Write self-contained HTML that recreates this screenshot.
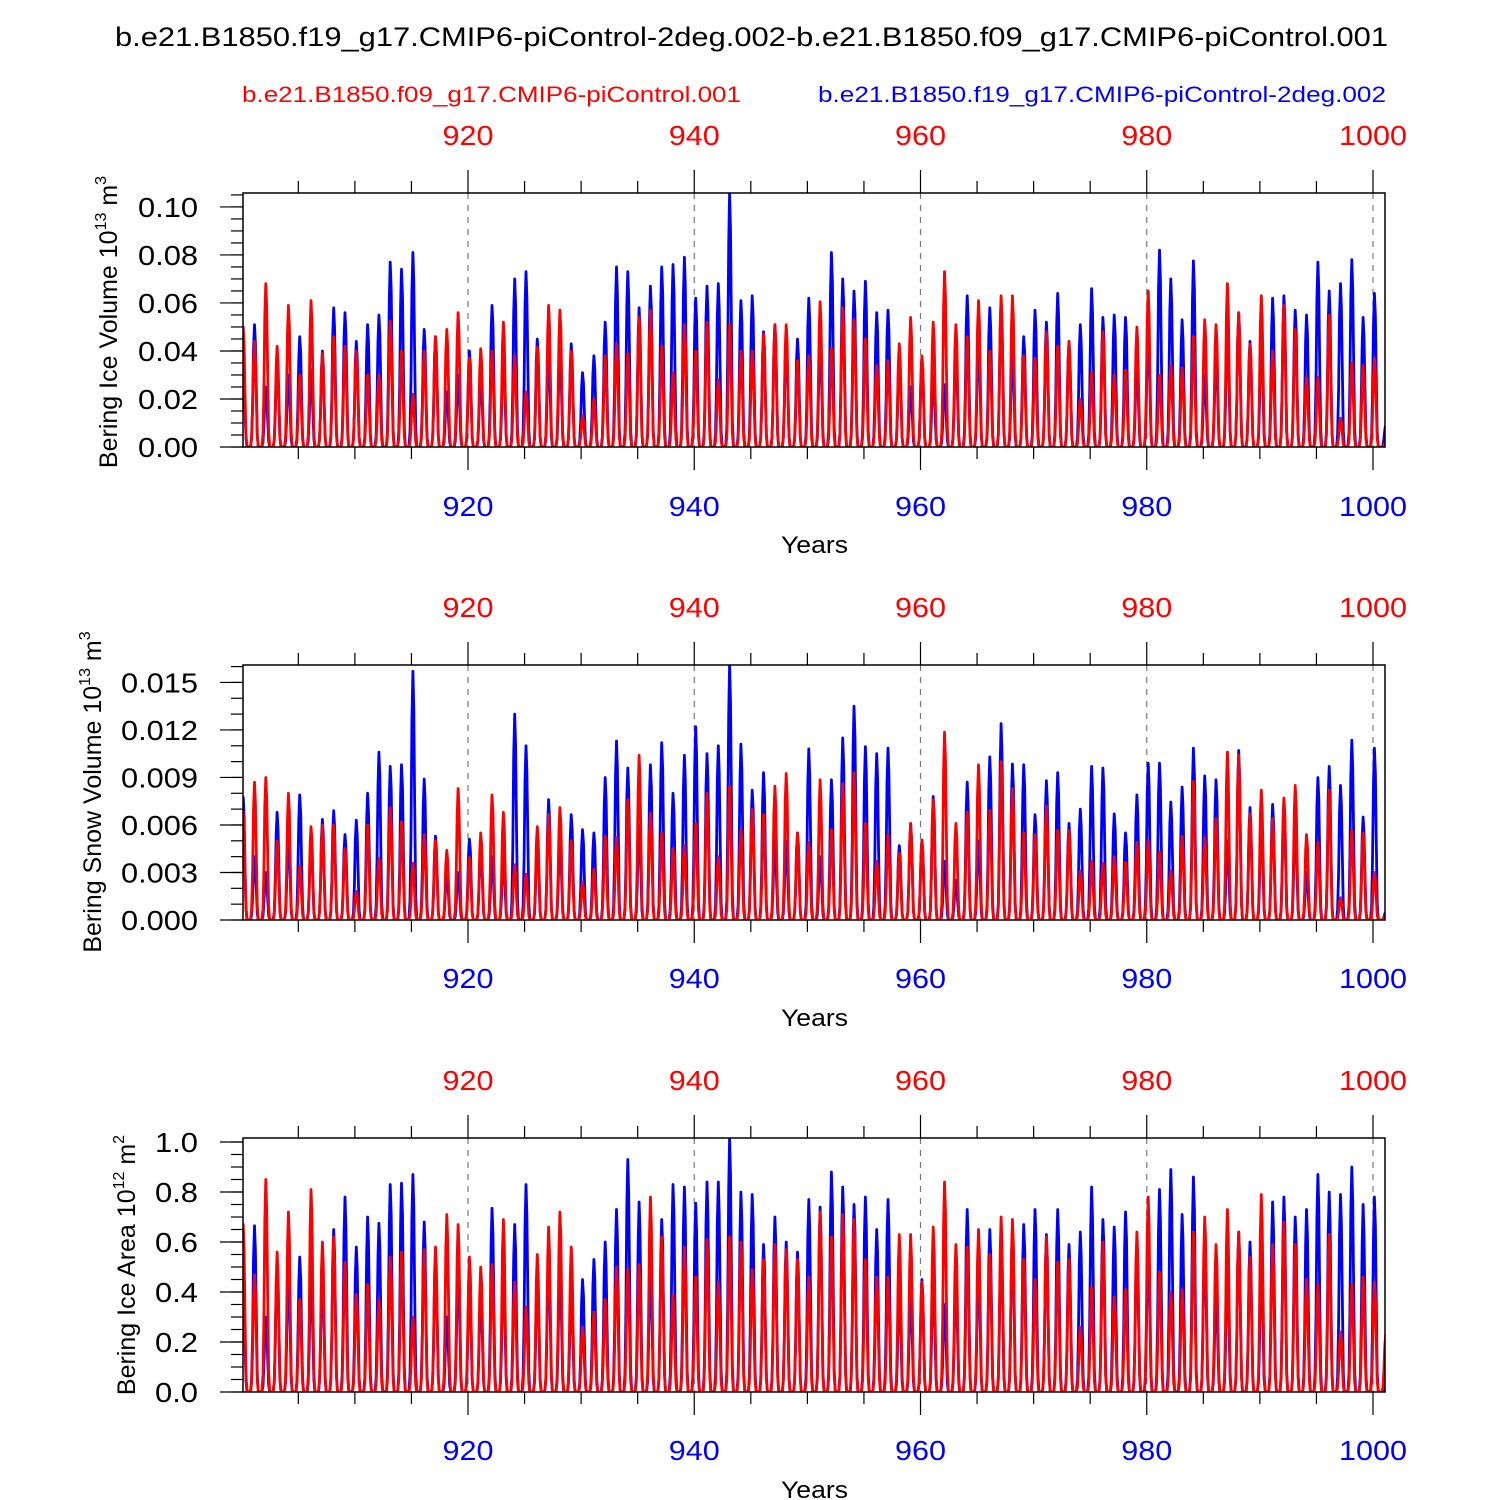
<!DOCTYPE html>
<html>
<head>
<meta charset="utf-8">
<style>
html,body{margin:0;padding:0;background:#fff;}
svg{display:block;font-family:"Liberation Sans",Arial,sans-serif;}
</style>
</head>
<body>
<svg id="chart" width="1500" height="1500" viewBox="0 0 1500 1500" xmlns="http://www.w3.org/2000/svg">
<text x="115" y="46" font-size="27" textLength="1273" lengthAdjust="spacingAndGlyphs" fill="#000">b.e21.B1850.f19_g17.CMIP6-piControl-2deg.002-b.e21.B1850.f09_g17.CMIP6-piControl.001</text>
<text x="242" y="102" font-size="22" textLength="499" lengthAdjust="spacingAndGlyphs" fill="#ff0000">b.e21.B1850.f09_g17.CMIP6-piControl.001</text>
<text x="818" y="102" font-size="22" textLength="568" lengthAdjust="spacingAndGlyphs" fill="#0000ff">b.e21.B1850.f19_g17.CMIP6-piControl-2deg.002</text>
<g id="panels"></g>
</svg>
<script>
// Annual peak values (winter maxima) per year 900..1001
const years = [];
for (let y = 900; y <= 1001; y++) years.push(y);
const xTicks = [920, 940, 960, 980, 1000];

// Panel 1: ice volume (units 0.01 x 10^13 m^3)
const iceVolBlue = [3.5,5.1,2.5,3.6,3.0,4.6,3.2,4.0,5.8,5.6,4.4,5.1,5.5,7.7,7.4,8.1,4.9,4.6,2.3,3.0,4.0,3.0,5.9,4.0,7.0,7.3,4.5,4.0,4.0,4.3,3.1,3.8,5.2,7.5,7.3,5.8,6.7,7.5,7.6,7.9,6.2,6.7,6.8,10.6,6.1,6.3,4.8,5.1,4.5,4.5,6.2,4.5,8.1,7.0,6.5,6.9,5.6,5.7,3.8,2.5,3.7,3.0,2.6,4.0,6.3,4.5,5.8,6.1,4.0,4.6,5.7,5.2,6.4,4.4,5.1,6.6,5.4,5.5,5.4,3.5,5.0,8.2,7.0,5.3,7.75,3.0,4.0,5.0,5.6,4.4,4.5,6.2,6.3,5.7,5.5,7.7,6.5,6.8,7.8,5.4,6.4,0.9];
const iceVolRed = [5.0,4.4,6.8,4.2,5.9,3.0,6.1,3.9,4.6,4.2,4.0,3.0,3.0,5.25,4.0,2.2,4.0,4.6,4.9,5.6,3.7,4.1,4.0,5.2,3.8,2.3,4.15,5.9,5.7,4.0,1.3,2.0,3.8,4.3,3.9,5.4,5.7,4.2,3.1,5.1,4.0,5.2,2.8,5.1,4.0,4.0,4.7,5.1,5.1,3.6,3.8,6.05,4.1,5.8,5.3,4.5,3.4,3.6,4.3,5.4,3.8,5.2,7.3,5.1,4.6,6.1,4.0,6.3,6.3,3.8,3.7,4.8,4.2,4.4,2.0,3.1,4.8,3.0,3.2,5.0,6.5,3.0,3.4,3.3,4.6,5.3,5.1,6.8,5.6,4.3,6.3,4.0,5.9,4.9,2.9,2.9,5.5,1.2,3.5,3.4,3.7,0.2];
// Panel 2: snow volume (units 0.001 x 10^13 m^3)
const snowVolBlue = [7.75,4.0,3.0,6.8,5.4,7.9,5.0,6.35,6.9,5.4,6.3,8.0,10.6,9.7,9.8,15.7,8.9,5.3,3.0,3.0,5.1,4.6,4.0,4.0,13.0,11.0,5.0,7.6,5.0,6.65,5.7,5.5,9.0,11.3,9.6,6.0,9.8,11.2,8.0,10.4,12.2,10.5,11.0,16.2,11.1,8.2,9.3,5.0,5.0,5.5,10.8,4.0,8.85,11.5,13.5,10.95,10.5,10.85,4.7,6.1,5.05,7.8,3.7,2.5,8.7,5.0,10.3,12.4,9.85,9.8,6.65,8.8,9.3,6.1,7.0,9.7,9.6,6.7,5.5,7.9,9.9,9.9,7.45,8.4,10.85,9.1,8.85,5.0,10.7,7.1,6.0,7.3,7.5,6.0,3.0,9.0,9.7,8.5,11.35,6.5,10.85,0.5];
const snowVolRed = [6.8,8.7,9.0,5.0,8.0,3.4,5.9,6.0,6.0,4.5,1.8,6.0,3.9,7.1,6.2,3.6,5.4,5.0,4.4,8.3,3.95,5.5,7.9,6.8,3.5,2.9,5.9,6.65,7.1,5.0,2.4,3.2,5.3,5.2,7.6,10.4,6.75,5.5,4.5,4.7,6.1,8.0,4.0,8.45,5.7,7.0,6.65,8.45,9.25,5.5,4.9,8.85,5.7,8.6,9.3,6.1,3.7,5.4,4.2,6.1,5.0,7.6,11.85,6.1,6.8,9.8,6.9,10.0,8.3,5.5,5.4,7.2,5.65,5.65,3.1,3.7,3.6,4.0,3.65,4.9,5.05,4.3,3.1,5.3,8.75,5.2,6.4,10.6,10.4,6.7,8.2,6.4,7.7,8.5,5.4,4.9,8.2,1.4,5.65,5.5,3.0,0.3];
// Panel 3: ice area (units 0.1 x 10^12 m^2)
const iceAreaBlue = [4.5,6.65,3.0,5.2,4.9,5.4,4.8,5.0,6.5,7.8,5.8,7.0,6.75,8.3,8.35,8.7,6.8,5.3,3.0,5.0,4.5,4.0,7.35,5.0,6.7,8.3,4.5,5.3,5.0,4.0,4.5,5.3,6.0,7.3,9.3,7.6,5.0,6.9,8.3,8.2,7.55,8.4,8.4,10.2,8.0,7.9,5.9,7.0,6.0,5.6,7.7,7.4,8.8,8.2,7.5,7.8,6.5,7.7,4.0,4.0,4.5,4.5,3.5,4.5,7.3,5.0,6.5,6.0,6.5,6.7,7.3,6.3,7.3,5.9,6.4,8.2,6.9,6.6,7.2,6.0,6.0,8.1,8.9,7.1,8.6,6.0,4.0,5.0,6.4,6.0,5.0,7.6,7.8,7.0,7.3,8.7,8.0,7.9,9.0,7.5,7.8,0.6];
const iceAreaRed = [6.7,4.7,8.5,5.6,7.2,3.7,8.1,6.0,6.2,5.2,3.9,4.3,3.7,5.4,5.6,3.0,5.7,5.8,7.1,6.7,5.4,5.0,5.1,6.9,4.4,3.4,5.5,6.6,7.2,5.8,2.6,3.2,3.7,5.0,4.9,5.1,7.8,6.2,3.9,5.8,4.6,6.1,4.4,6.2,6.0,4.9,5.3,5.9,5.7,5.3,4.6,7.2,6.2,7.1,6.9,5.3,4.6,4.6,6.3,6.3,4.4,6.6,8.4,5.9,5.8,6.5,5.5,7.0,6.9,5.3,4.5,6.2,5.2,5.3,2.6,4.2,6.0,3.8,4.1,6.4,7.8,4.8,4.0,4.1,6.4,7.0,5.9,7.3,6.4,5.4,7.9,5.9,6.8,5.9,4.5,4.3,6.3,2.4,4.3,4.6,4.4,2.3];

// seasonal shape of a winter cycle (rendering only): Jan..Dec relative to the peak that winter
const MONTH_W = [0.8,1.0,0.85,0.45,0.1,0.01,0,0,0,0.01,0.08,0.35];

const panels = [
  {name:'ice-volume', top:193, bot:447, ymax:0.1058, scale:0.01, majors:[0,0.02,0.04,0.06,0.08,0.10], fmt:2, minorStep:0.005,
   blue:iceVolBlue, red:iceVolRed, titleX:108, titleY:322, title:['Bering Ice Volume 10','13',' m','3'],
   topLbl:135, botLbl:506, yearsY:545},
  {name:'snow-volume', top:665, bot:920, ymax:0.0161, scale:0.001, majors:[0,0.003,0.006,0.009,0.012,0.015], fmt:3, minorStep:0.001,
   blue:snowVolBlue, red:snowVolRed, titleX:92, titleY:792, title:['Bering Snow Volume 10','13',' m','3'],
   topLbl:607, botLbl:978, yearsY:1018},
  {name:'ice-area', top:1138, bot:1392, ymax:1.016, scale:0.1, majors:[0,0.2,0.4,0.6,0.8,1.0], fmt:1, minorStep:0.05,
   blue:iceAreaBlue, red:iceAreaRed, titleX:126, titleY:1265, title:['Bering Ice Area 10','12',' m','2'],
   topLbl:1080, botLbl:1450, yearsY:1490}
];

const X0 = 243, X1 = 1385;
const NS = 'http://www.w3.org/2000/svg';
function xOf(year){ return 468 + (year - 920) * 11.3125; }
function mk(tag, attrs, parent){
  const e = document.createElementNS(NS, tag);
  for (const k in attrs) e.setAttribute(k, attrs[k]);
  parent.appendChild(e); return e;
}
function numWidth(s, dw, pw){
  let w = 0;
  for (const c of s) w += (c === '.') ? pw : dw;
  return w;
}
const root = document.getElementById('panels');

panels.forEach(p => {
  const yOf = v => p.bot - v / p.ymax * (p.bot - p.top);
  const g = mk('g', {}, root);
  
  

  const cp = mk('clipPath', {id:'clip-' + p.name}, g);
  mk('rect', {x:X0, y:p.top, width:X1 - X0, height:p.bot - p.top}, cp);

  xTicks.forEach(t => {
    const l = mk('line', {x1:xOf(t), x2:xOf(t), y1:p.top, y2:p.bot, stroke:'#777', 'stroke-width':1.2, 'stroke-dasharray':'6,6'}, g);
    
    
  });

  [['blue', p.blue, '#0000ff'], ['red', p.red, '#ff0000']].forEach(([nm, peaks, col]) => {
    let pts = [];
    for (let i = 0; i < years.length; i++) {
      for (let m = 0; m < 12; m++) {
        const t = years[i] + (m + 0.5) / 12;
        if (xOf(t) > X1 + 12) break;
        const pk = (m >= 9) ? (peaks[i + 1] !== undefined ? peaks[i + 1] : peaks[i]) : peaks[i];
        const v = pk * p.scale * MONTH_W[m];
        pts.push(xOf(t).toFixed(1) + ',' + yOf(v).toFixed(1));
      }
    }
    const pl = mk('polyline', {points:pts.join(' '), fill:'none', stroke:col, 'stroke-width':2.8, 'stroke-linejoin':'round', 'clip-path':'url(#clip-' + p.name + ')'}, g);
    
    
  });

  const fr = mk('rect', {x:X0, y:p.top, width:X1 - X0, height:p.bot - p.top, fill:'none', stroke:'#000', 'stroke-width':1.5}, g);
  
  

  for (let yr = 905; yr <= 1000; yr += 5) {
    const x = xOf(yr);
    const major = yr % 20 === 0;
    const len = major ? 23 : 12;
    mk('line', {x1:x, x2:x, y1:p.top, y2:p.top - len, stroke:'#000', 'stroke-width':1.2}, g);
    mk('line', {x1:x, x2:x, y1:p.bot, y2:p.bot + len, stroke:'#000', 'stroke-width':1.2}, g);
  }
  xTicks.forEach(t => {
    const s = String(t);
    const w = s.length * 17;
    const a = mk('text', {x:xOf(t) - w / 2, y:p.topLbl + 10, 'font-size':28, textLength:w, lengthAdjust:'spacingAndGlyphs', fill:'#ff0000'}, g);
    a.textContent = s;
    
    
    const b = mk('text', {x:xOf(t) - w / 2, y:p.botLbl + 10, 'font-size':28, textLength:w, lengthAdjust:'spacingAndGlyphs', fill:'#0000ff'}, g);
    b.textContent = s;
    
    
  });
  const yl = mk('text', {x:781, y:p.yearsY + 8, 'font-size':24, textLength:67, lengthAdjust:'spacingAndGlyphs', fill:'#000'}, g);
  yl.textContent = 'Years';
  
  

  const nMin = Math.round(p.ymax / p.minorStep);
  for (let k = 0; k <= nMin; k++) {
    const v = k * p.minorStep;
    if (v > p.ymax) break;
    mk('line', {x1:X0, x2:X0 - 12, y1:yOf(v), y2:yOf(v), stroke:'#000', 'stroke-width':1.2}, g);
  }
  p.majors.forEach(v => {
    mk('line', {x1:X0, x2:X0 - 23, y1:yOf(v), y2:yOf(v), stroke:'#000', 'stroke-width':1.2}, g);
    const s = v.toFixed(p.fmt);
    const w = numWidth(s, 17, 9);
    const t = mk('text', {x:198 - w, y:yOf(v) + 10, 'font-size':28, textLength:w, lengthAdjust:'spacingAndGlyphs', fill:'#000'}, g);
    t.textContent = s;
    
    
  });

  const tt = mk('text', {x:0, y:0, 'font-size':25, 'text-anchor':'middle', fill:'#000', transform:'translate(' + (p.titleX + 9) + ',' + p.titleY + ') rotate(-90)'}, g);
  
  
  const s1 = mk('tspan', {}, tt); s1.textContent = p.title[0];
  const s2 = mk('tspan', {dy:-11, 'font-size':16}, tt); s2.textContent = p.title[1];
  const s3 = mk('tspan', {dy:11}, tt); s3.textContent = p.title[2];
  const s4 = mk('tspan', {dy:-11, 'font-size':16}, tt); s4.textContent = p.title[3];
});
</script>
</body>
</html>
